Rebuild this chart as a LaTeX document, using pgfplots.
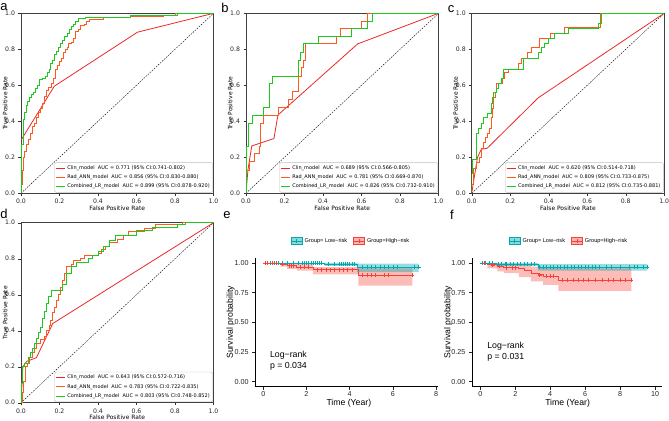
\documentclass[border=0pt]{standalone}
\usepackage{fontspec}
\setmainfont{DejaVu Sans}
\newfontfamily\lib{Liberation Sans}
\usepackage{pgfplots}
\pgfplotsset{compat=1.18}
\definecolor{clin}{RGB}{235,40,40}
\definecolor{rad}{RGB}{255,90,30}
\definecolor{comb}{RGB}{30,200,30}
\definecolor{kmteal}{RGB}{0,168,176}
\definecolor{kmred}{RGB}{245,65,55}
\tikzset{letter/.style={font=\lib\fontsize{13}{13}\selectfont, inner sep=0pt}}
\pgfplotsset{
 /pgf/number format/assume math mode=true,
 roc/.style={
  scale only axis, width=192.5bp, height=180bp,
  xmin=0,xmax=1,ymin=0,ymax=1,
  xtick={0,0.2,0.4,0.6,0.8,1}, ytick={0,0.2,0.4,0.6,0.8,1},
  xticklabels={0.0,0.2,0.4,0.6,0.8,1.0}, yticklabels={0.0,0.2,0.4,0.6,0.8,1.0},
  tick align=outside, tick pos=left, major tick length=2.5bp,
  every tick/.style={black!80, line width=0.4bp},
  axis line style={black!75, line width=0.5bp},
  ticklabel style={font=\fontsize{6.2}{7}\selectfont, text=black!85},
  xlabel={False Positive Rate}, ylabel={True Positive Rate},
  label style={font=\fontsize{6}{7}\selectfont},
  xlabel style={at={(axis description cs:0.5,-0.083)}, anchor=center},
  ylabel style={at={(axis description cs:-0.083,0.5)}, anchor=center},
  legend style={at={(0.997,0.004)}, anchor=south east, font=\fontsize{5}{5.6}\selectfont,
    draw=black!25, rounded corners=1.5bp, inner sep=1bp, row sep=0bp, cells={anchor=west}},
  legend image code/.code={\draw[#1] (0bp,0bp) -- (9bp,0bp);},
 },
 clinp/.style={clin, line width=0.8bp, sharp plot},
 radp/.style={rad, line width=0.8bp, const plot mark left},
 combp/.style={comb, line width=0.8bp, const plot mark left},
 km/.style={
  scale only axis, height=128.7bp, ymin=-0.042, ymax=1.042,
  ytick={0,0.25,0.5,0.75,1}, yticklabels={0.00,0.25,0.50,0.75,1.00},
  axis lines=left, axis line style={-, black, line width=0.8bp},
  tick align=outside, major tick length=3.5bp,
  every tick/.style={black!85, line width=0.6bp},
  ticklabel style={font=\lib\fontsize{7.2}{8}\selectfont, text=black!85},
  xticklabel style={yshift=2.5bp},
  label style={font=\lib\fontsize{8.7}{10}\selectfont},
  ylabel={Survival probability}, xlabel={Time (Year)},
  legend style={draw=none, fill=none, legend columns=2, anchor=center,
    font=\lib\fontsize{5.6}{6}\selectfont,
    /tikz/every even column/.append style={column sep=4bp}},
 },
}
\begin{document}
\begin{tikzpicture}[x=1bp,y=1bp]
\useasboundingbox (0,0) rectangle (669,420);
\node[letter] at (4,413) {a};
\node[letter] at (225,412) {b};
\node[letter] at (451,411) {c};
\node[letter] at (4,206) {d};
\node[letter] at (227,205) {e};
\node[letter] at (452,205) {f};

% ---------------- a
\begin{axis}[roc, at={(21bp,226.7bp)}, anchor=south west]
\addplot[black, line width=0.4bp, dash pattern=on 1.6bp off 1.2bp, forget plot] coordinates {(0,0)(1,1)};
\addplot[clinp] coordinates {(0,0)(0,0.295)(0.173,0.595)(0.605,0.895)(1,1)};
\addplot[radp] coordinates {(0,0)(0,0.05)(0.005,0.13)(0.01,0.2)(0.02,0.23)(0.03,0.27)(0.04,0.3)(0.05,0.33)(0.06,0.37)(0.07,0.39)(0.08,0.42)(0.09,0.45)(0.1,0.47)(0.11,0.5)(0.12,0.54)(0.13,0.57)(0.14,0.59)(0.16,0.61)(0.17,0.64)(0.18,0.69)(0.19,0.71)(0.2,0.73)(0.21,0.75)(0.22,0.78)(0.23,0.8)(0.24,0.81)(0.245,0.83)(0.26,0.84)(0.27,0.86)(0.28,0.88)(0.285,0.9)(0.3,0.91)(0.31,0.93)(0.33,0.94)(0.34,0.955)(0.355,0.967)(0.43,0.978)(0.57,0.985)(0.74,0.99)(0.8,1)(1,1)};
\addplot[combp] coordinates {(0,0)(0,0.27)(0.01,0.35)(0.015,0.41)(0.02,0.45)(0.028,0.49)(0.035,0.51)(0.045,0.53)(0.055,0.55)(0.065,0.56)(0.075,0.58)(0.085,0.6)(0.095,0.63)(0.11,0.64)(0.125,0.65)(0.135,0.67)(0.145,0.69)(0.155,0.72)(0.165,0.74)(0.175,0.77)(0.185,0.79)(0.195,0.81)(0.205,0.83)(0.215,0.85)(0.225,0.87)(0.24,0.89)(0.25,0.91)(0.26,0.925)(0.27,0.94)(0.285,0.955)(0.3,0.97)(0.335,0.978)(0.57,0.987)(0.81,1)(1,1)};
\legend{Clin\_model\ \ AUC = 0.771 (95\% CI:0.741-0.802),Rad\_ANN\_model\ \ AUC = 0.856 (95\% CI:0.830-0.880),Combined\_LR\_model\ \ AUC = 0.899 (95\% CI:0.878-0.920)}
\end{axis}

% ---------------- b
\begin{axis}[roc, at={(246bp,226.7bp)}, anchor=south west]
\addplot[black, line width=0.4bp, dash pattern=on 1.6bp off 1.2bp, forget plot] coordinates {(0,0)(1,1)};
\addplot[clinp] coordinates {(0,0)(0.01,0.13)(0.03,0.263)(0.145,0.304)(0.166,0.435)(0.58,0.83)(1,1)};
\addplot[radp] coordinates {(0,0)(0,0.13)(0.02,0.175)(0.045,0.22)(0.07,0.26)(0.075,0.39)(0.09,0.435)(0.17,0.478)(0.22,0.52)(0.24,0.565)(0.27,0.65)(0.29,0.7)(0.3,0.74)(0.31,0.83)(0.47,0.87)(0.49,0.915)(0.6,0.957)(0.63,1)(1,1)};
\addplot[combp] coordinates {(0,0)(0,0.263)(0.01,0.39)(0.033,0.435)(0.09,0.478)(0.123,0.608)(0.137,0.652)(0.273,0.74)(0.28,0.78)(0.3,0.83)(0.375,0.87)(0.545,0.915)(0.63,0.957)(0.655,1)(1,1)};
\legend{Clin\_model\ \ AUC = 0.689 (95\% CI:0.566-0.805),Rad\_ANN\_model\ \ AUC = 0.781 (95\% CI:0.669-0.870),Combined\_LR\_model\ \ AUC = 0.826 (95\% CI:0.732-0.910)}
\end{axis}

% ---------------- c
\begin{axis}[roc, at={(471.7bp,226.7bp)}, anchor=south west]
\addplot[black, line width=0.4bp, dash pattern=on 1.6bp off 1.2bp, forget plot] coordinates {(0,0)(1,1)};
\addplot[clinp] coordinates {(0,0)(0.03,0.2)(0.05,0.245)(0.08,0.25)(0.345,0.53)(1,1)};
\addplot[radp] coordinates {(0,0)(0,0.05)(0.01,0.14)(0.025,0.17)(0.04,0.2)(0.05,0.25)(0.06,0.28)(0.07,0.31)(0.08,0.33)(0.09,0.36)(0.1,0.42)(0.11,0.47)(0.115,0.53)(0.125,0.56)(0.13,0.61)(0.16,0.64)(0.17,0.67)(0.19,0.69)(0.24,0.72)(0.26,0.75)(0.29,0.78)(0.31,0.81)(0.35,0.86)(0.41,0.89)(0.48,0.92)(0.67,1)(1,1)};
\addplot[combp] coordinates {(0,0)(0,0.11)(0.005,0.19)(0.026,0.33)(0.035,0.36)(0.05,0.39)(0.06,0.42)(0.08,0.445)(0.1,0.5)(0.11,0.53)(0.115,0.56)(0.13,0.58)(0.14,0.61)(0.155,0.64)(0.165,0.69)(0.27,0.75)(0.345,0.78)(0.36,0.81)(0.38,0.835)(0.4,0.86)(0.43,0.89)(0.5,0.915)(0.66,0.945)(0.675,1)(1,1)};
\legend{Clin\_model\ \ AUC = 0.620 (95\% CI:0.514-0.718),Rad\_ANN\_model\ \ AUC = 0.809 (95\% CI:0.733-0.875),Combined\_LR\_model\ \ AUC = 0.812 (95\% CI:0.735-0.881)}
\end{axis}

% ---------------- d
\begin{axis}[roc, at={(21bp,17.3bp)}, anchor=south west]
\addplot[black, line width=0.4bp, dash pattern=on 1.6bp off 1.2bp, forget plot] coordinates {(0,0)(1,1)};
\addplot[clinp] coordinates {(0,0)(0.01,0.2)(0.03,0.23)(0.08,0.25)(0.165,0.44)(1,1)};
\addplot[radp] coordinates {(0,0)(0.005,0.06)(0.015,0.12)(0.025,0.2)(0.035,0.22)(0.045,0.25)(0.06,0.28)(0.07,0.3)(0.08,0.33)(0.1,0.35)(0.12,0.37)(0.13,0.4)(0.145,0.43)(0.155,0.46)(0.165,0.5)(0.175,0.53)(0.185,0.57)(0.195,0.6)(0.205,0.64)(0.215,0.68)(0.225,0.72)(0.235,0.76)(0.26,0.77)(0.27,0.79)(0.31,0.8)(0.33,0.82)(0.4,0.83)(0.42,0.85)(0.44,0.87)(0.46,0.89)(0.5,0.91)(0.53,0.93)(0.56,0.95)(0.64,0.97)(0.7,0.99)(0.84,1)(1,1)};
\addplot[combp] coordinates {(0,0)(0,0.11)(0.005,0.2)(0.02,0.22)(0.04,0.25)(0.05,0.28)(0.06,0.3)(0.07,0.33)(0.08,0.36)(0.09,0.39)(0.1,0.42)(0.11,0.47)(0.12,0.51)(0.13,0.55)(0.14,0.59)(0.16,0.625)(0.215,0.66)(0.235,0.72)(0.26,0.76)(0.29,0.78)(0.35,0.8)(0.37,0.82)(0.4,0.84)(0.43,0.87)(0.46,0.9)(0.49,0.93)(0.6,0.955)(0.68,0.975)(0.81,0.99)(0.853,1)(1,1)};
\legend{Clin\_model\ \ AUC = 0.643 (95\% CI:0.572-0.716),Rad\_ANN\_model\ \ AUC = 0.783 (95\% CI:0.722-0.835),Combined\_LR\_model\ \ AUC = 0.803 (95\% CI:0.748-0.852)}
\end{axis}

% ---------------- e
\begin{axis}[km, at={(255.7bp,33.3bp)}, anchor=south west, width=182.6bp,
  xmin=-0.352, xmax=8.107, xtick={0,2,4,6,8},
  xlabel style={at={(axis description cs:0.51,-0.13)}, anchor=center},
  ylabel style={at={(axis description cs:-0.137,0.5)}, anchor=center},
  legend style={at={(0.522,1.132)}}]
\addplot[fill=kmred, fill opacity=0.35, draw=none, forget plot] coordinates {(0,1)(1.1,1)(1.1,0.995)(1.55,0.995)(1.55,0.99)(2.3,0.99)(2.3,0.965)(4.4,0.965)(4.4,0.955)(6.9,0.955)(6.9,0.81)(4.4,0.81)(4.4,0.905)(2.3,0.905)(2.3,0.935)(1.55,0.935)(1.55,0.95)(1.1,0.95)(1.1,0.97)(0.8,0.97)(0.8,1)(0,1)};
\addplot[fill=kmteal, fill opacity=0.4, draw=none, forget plot] coordinates {(0,1)(4.35,1)(4.35,0.995)(7.2,0.995)(7.2,0.922)(4.35,0.922)(4.35,0.975)(2.85,0.975)(2.85,1)(0,1)};
\addplot[kmteal, line width=0.9bp, const plot mark left, forget plot] coordinates {(0,1)(2.85,0.99)(4.35,0.966)(7.2,0.966)};
\addplot[kmred, line width=0.9bp, const plot mark left, forget plot] coordinates {(0,1)(0.8,0.99)(1.1,0.977)(1.55,0.966)(2.3,0.944)(4.4,0.897)(6.9,0.897)};
\addplot[only marks, mark=+, mark size=2bp, kmteal, line width=0.5bp, forget plot] coordinates {(0.3,1)(0.5,1)(0.7,1)(0.9,1)(1.1,1)(1.4,1)(1.6,1)(1.8,1)(1.9,1)(2.0,1)(2.1,1)(2.2,1)(2.3,1)(2.4,1)(2.5,1)(2.6,1)(2.7,1)(3.0,0.99)(3.3,0.99)(3.5,0.99)(3.6,0.99)(3.7,0.99)(3.8,0.99)(3.9,0.99)(4.0,0.99)(4.1,0.99)(4.2,0.99)(4.6,0.966)(4.8,0.966)(5.0,0.966)(5.2,0.966)(5.4,0.966)(5.6,0.966)(5.8,0.966)(6.0,0.966)(6.2,0.966)(7.0,0.966)(7.2,0.966)};
\addplot[only marks, mark=+, mark size=2bp, kmred, line width=0.5bp, forget plot] coordinates {(0.1,1)(0.2,1)(0.4,1)(0.6,1)(0.9,0.99)(1.2,0.977)(1.3,0.977)(1.4,0.977)(1.7,0.966)(1.9,0.966)(2.1,0.966)(2.5,0.944)(2.7,0.944)(2.9,0.944)(3.1,0.944)(3.3,0.944)(3.5,0.944)(3.7,0.944)(3.9,0.944)(4.1,0.944)(4.6,0.897)(4.8,0.897)(5.0,0.897)(5.2,0.897)(5.6,0.897)(5.8,0.897)(6.9,0.897)};
\node[anchor=west, align=left, font=\lib\fontsize{8.8}{11}\selectfont] at (axis cs:0.15,0.18) {Log−rank\\p = 0.034};
\addlegendimage{legend image code/.code={\fill[kmteal, fill opacity=0.45] (0bp,-3.5bp) rectangle (11bp,3.5bp); \draw[kmteal, line width=0.9bp] (0bp,0bp) -- (11bp,0bp); \draw[kmteal, line width=0.6bp] (5.5bp,-2bp) -- (5.5bp,2bp);}}
\addlegendentry{Group= Low−risk}
\addlegendimage{legend image code/.code={\fill[kmred, fill opacity=0.4] (0bp,-3.5bp) rectangle (11bp,3.5bp); \draw[kmred, line width=0.9bp] (0bp,0bp) -- (11bp,0bp); \draw[kmred, line width=0.6bp] (5.5bp,-2bp) -- (5.5bp,2bp);}}
\addlegendentry{Group=High−risk}
\end{axis}

% ---------------- f
\begin{axis}[km, at={(472.3bp,33.3bp)}, anchor=south west, width=189.4bp,
  xmin=-0.458, xmax=10.38, xtick={0,2,4,6,8,10},
  xlabel style={at={(axis description cs:0.503,-0.13)}, anchor=center},
  ylabel style={at={(axis description cs:-0.127,0.5)}, anchor=center},
  legend style={at={(0.51,1.132)}}]
\addplot[fill=kmred, fill opacity=0.35, draw=none, forget plot] coordinates {(0,1)(0.97,1)(0.97,0.995)(2.2,0.995)(2.2,0.985)(2.9,0.985)(2.9,0.97)(3.6,0.97)(3.6,0.96)(4.46,0.96)(4.46,0.955)(8.65,0.955)(8.65,0.765)(4.46,0.765)(4.46,0.815)(3.6,0.815)(3.6,0.845)(2.9,0.845)(2.9,0.88)(2.2,0.88)(2.2,0.915)(1.35,0.915)(1.35,0.93)(0.97,0.93)(0.97,0.955)(0.4,0.955)(0.4,1)(0,1)};
\addplot[fill=kmteal, fill opacity=0.4, draw=none, forget plot] coordinates {(0,1)(3.3,1)(3.3,0.99)(9.55,0.99)(9.55,0.935)(3.3,0.935)(3.3,0.975)(0.9,0.975)(0.9,1)(0,1)};
\addplot[kmteal, line width=0.9bp, const plot mark left, forget plot] coordinates {(0,1)(0.9,0.99)(3.3,0.965)(9.55,0.965)};
\addplot[kmred, line width=0.9bp, const plot mark left, forget plot] coordinates {(0,1)(0.4,0.985)(0.97,0.972)(1.35,0.962)(2.2,0.95)(2.5,0.935)(2.9,0.915)(3.3,0.9)(3.6,0.89)(4.46,0.857)(8.65,0.857)};
\addplot[only marks, mark=+, mark size=2bp, kmteal, line width=0.5bp, forget plot] coordinates {(0.1,1)(0.3,1)(0.5,1)(0.7,1)(1.0,0.99)(1.2,0.99)(1.4,0.99)(1.5,0.99)(1.7,0.99)(1.9,0.99)(2.1,0.99)(2.3,0.99)(2.5,0.99)(2.7,0.99)(2.9,0.99)(3.1,0.99)(3.4,0.965)(3.6,0.965)(3.8,0.965)(4.0,0.965)(4.2,0.965)(4.4,0.965)(4.6,0.965)(4.8,0.965)(5.0,0.965)(5.2,0.965)(5.4,0.965)(5.6,0.965)(5.8,0.965)(6.0,0.965)(6.2,0.965)(6.4,0.965)(6.6,0.965)(6.8,0.965)(7.2,0.965)(7.5,0.965)(8.0,0.965)(8.5,0.965)(8.8,0.965)(9.0,0.965)(9.3,0.965)(9.55,0.965)};
\addplot[only marks, mark=+, mark size=2bp, kmred, line width=0.5bp, forget plot] coordinates {(0.2,1)(0.7,0.985)(1.1,0.972)(1.5,0.962)(1.8,0.962)(2.0,0.962)(3.4,0.9)(3.8,0.89)(4.0,0.89)(4.2,0.89)(4.7,0.857)(5.0,0.857)(5.3,0.857)(5.6,0.857)(5.9,0.857)(6.2,0.857)(6.6,0.857)(7.0,0.857)(7.3,0.857)(7.6,0.857)(8.0,0.857)(8.3,0.857)(8.65,0.857)};
\node[anchor=west, align=left, font=\lib\fontsize{8.8}{11}\selectfont] at (axis cs:0.2,0.255) {Log−rank\\p = 0.031};
\addlegendimage{legend image code/.code={\fill[kmteal, fill opacity=0.45] (0bp,-3.5bp) rectangle (11bp,3.5bp); \draw[kmteal, line width=0.9bp] (0bp,0bp) -- (11bp,0bp); \draw[kmteal, line width=0.6bp] (5.5bp,-2bp) -- (5.5bp,2bp);}}
\addlegendentry{Group= Low−risk}
\addlegendimage{legend image code/.code={\fill[kmred, fill opacity=0.4] (0bp,-3.5bp) rectangle (11bp,3.5bp); \draw[kmred, line width=0.9bp] (0bp,0bp) -- (11bp,0bp); \draw[kmred, line width=0.6bp] (5.5bp,-2bp) -- (5.5bp,2bp);}}
\addlegendentry{Group=High−risk}
\end{axis}
\end{tikzpicture}
\end{document}
